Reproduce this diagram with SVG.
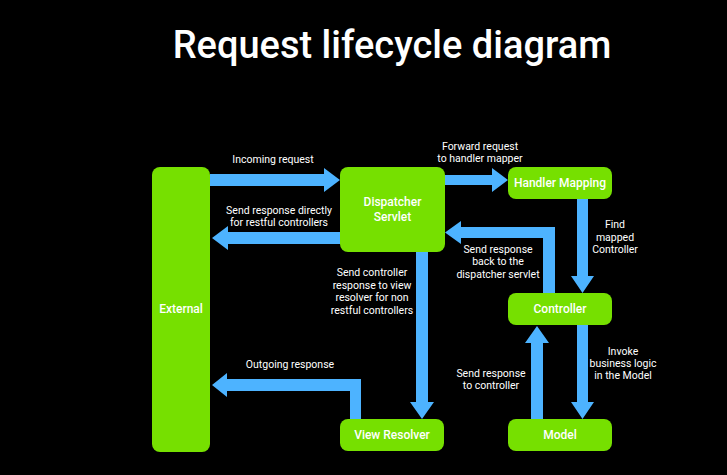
<svg xmlns="http://www.w3.org/2000/svg" width="727" height="475" viewBox="0 0 727 475">
<style>
.node{fill:#76e000}
.nt{fill:#fff;font-family:Roboto,"Liberation Sans",sans-serif;font-size:12px;font-weight:500;text-anchor:middle}
.lb{fill:#fff;font-family:Roboto,"Liberation Sans",sans-serif;font-size:10.5px;text-anchor:middle}
.arr{fill:#4db3ff}
</style>
<rect width="727" height="475" fill="#000"/>
<text x="392" y="58" fill="#fff" font-family="Roboto,'Liberation Sans',sans-serif" font-size="38" font-weight="500" text-anchor="middle">Request lifecycle diagram</text>
<g id="connectors">
<path class="arr" d="M210,174 H324 V168 L340,180 L324,192 V186 H210 Z"/>
<path class="arr" d="M340,232 H228 V226 L212,238 L228,250 V244 H340 Z"/>
<path class="arr" d="M444,175 H492 V168 L508,180 L492,192 V185 H444 Z"/>
<path class="arr" d="M577,199 V276 H571 L582.5,293 L594,276 H588 V199 Z"/>
<path class="arr" d="M555,293 V227 H461 V221 L445,232.5 L461,244 V238 H543 V293 Z"/>
<path class="arr" d="M416,252 V402 H410 L422,419 L434,402 H428 V252 Z"/>
<path class="arr" d="M361,419 V379 H227 V373 L212,385 L227,397 V391 H350 V419 Z"/>
<path class="arr" d="M577,325 V402 H571 L582.5,419 L594,402 H588 V325 Z"/>
<path class="arr" d="M531,419 V343 H525 L537,326 L549,343 H543 V419 Z"/>
<text class="lb" x="273" y="163">Incoming request</text>
<text class="lb" x="279" y="214">Send response directly</text>
<text class="lb" x="279" y="226">for restful controllers</text>
<text class="lb" x="480" y="150">Forward request</text>
<text class="lb" x="480" y="162">to handler mapper</text>
<text class="lb" x="615" y="228">Find</text>
<text class="lb" x="615" y="241">mapped</text>
<text class="lb" x="615" y="253">Controller</text>
<text class="lb" x="498" y="253">Send response</text>
<text class="lb" x="498" y="265">back to the</text>
<text class="lb" x="498" y="278">dispatcher servlet</text>
<text class="lb" x="372" y="276">Send controller</text>
<text class="lb" x="372" y="289">response to view</text>
<text class="lb" x="372" y="301">resolver for non</text>
<text class="lb" x="372" y="314">restful controllers</text>
<text class="lb" x="290" y="368">Outgoing response</text>
<text class="lb" x="491" y="377">Send response</text>
<text class="lb" x="491" y="389">to controller</text>
<text class="lb" x="623" y="355">Invoke</text>
<text class="lb" x="623" y="367">business logic</text>
<text class="lb" x="623" y="379">in the Model</text>
</g>
<g id="external"><rect class="node" x="152" y="167" width="58" height="285" rx="8"/><text class="nt" x="181" y="313">External</text></g>
<g id="dispatcher"><rect class="node" x="340" y="167" width="105" height="85" rx="8"/><text class="nt" x="392.5" y="206">Dispatcher</text><text class="nt" x="392.5" y="221">Servlet</text></g>
<g id="handler"><rect class="node" x="508" y="167" width="104" height="32" rx="8"/><text class="nt" x="560" y="187">Handler Mapping</text></g>
<g id="controller"><rect class="node" x="508" y="293" width="104" height="32" rx="8"/><text class="nt" x="560" y="313">Controller</text></g>
<g id="viewresolver"><rect class="node" x="340" y="419" width="104" height="32" rx="8"/><text class="nt" x="392" y="439">View Resolver</text></g>
<g id="model"><rect class="node" x="508" y="419" width="104" height="32" rx="8"/><text class="nt" x="560" y="439">Model</text></g>
</svg>
